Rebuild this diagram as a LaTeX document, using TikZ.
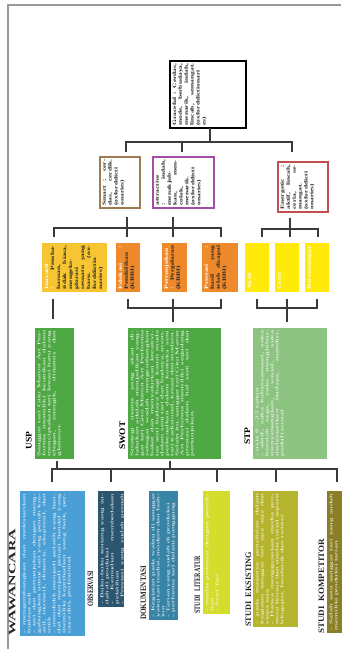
\documentclass[tikz,border=0pt]{standalone}
\usepackage{fontspec}
\setmainfont{Liberation Serif}
\usepackage{graphicx}
\definecolor{framegray}{HTML}{9A9A9A}
\definecolor{linegray}{HTML}{3A3A3A}
\definecolor{txtdark}{HTML}{262626}
\definecolor{cgold}{HTML}{F7C531}
\definecolor{corange}{HTML}{EE8A2B}
\definecolor{cyellow}{HTML}{FFEA0A}
\definecolor{cgreen}{HTML}{4EA844}
\definecolor{clgreen}{HTML}{8DC481}
\definecolor{cblue}{HTML}{4A9FD6}
\definecolor{cdblue}{HTML}{2C5670}
\definecolor{cteal}{HTML}{3884A6}
\definecolor{clime}{HTML}{D4DC2C}
\definecolor{colive}{HTML}{B6B42C}
\definecolor{cdolive}{HTML}{8A7F26}
\definecolor{cbrown}{HTML}{9E7B52}
\definecolor{cpurple}{HTML}{A24DA6}
\definecolor{cred}{HTML}{C0504D}
\newcommand{\diabox}[8]{%
\pgfmathsetmacro{\dbx}{(#2+#4)/2}%
\pgfmathsetmacro{\dby}{(#3+#5)/2}%
\pgfmathsetmacro{\dbw}{(#5-#3-5)/#7}%
\pgfmathsetmacro{\dbh}{#4-#2-5}%
\node[#6, rotate=90, inner sep=2.5pt, outer sep=0pt] (#1) at (\dbx,\dby) {\scalebox{#7}[1]{\parbox[c][\dbh pt][t]{\dbw pt}{#8}}};}
\newcommand{\toptxt}{\fontsize{5}{5.9}\selectfont\color{txtdark}\bfseries\sloppy}
\newcommand{\midtxt}{\fontsize{5}{6}\selectfont\color{txtdark}\bfseries\sloppy}
\newcommand{\grntxt}{\fontsize{4.2}{5}\selectfont\color{white}\sloppy}
\newcommand{\lowtxt}{\fontsize{4.1}{5}\selectfont\color{white}\sloppy}
\tikzset{
  conn/.style={draw=linegray, line width=1.1pt},
  fbox/.style={fill=#1, draw=none},
  obox/.style={draw=#1, line width=1.4pt, fill=white},
  lbl/.style={rotate=90, anchor=base west, inner sep=0pt, font=\bfseries\color{txtdark}},
}
\begin{document}
\begin{tikzpicture}[x=1pt,y=-1pt]
\useasboundingbox (0,0) rectangle (341,649);
\fill[white] (0,0) rectangle (341,649);
\draw[framegray, line width=1.3pt] (341,5) -- (8,5) -- (8,649);

% level 1
\diabox{grace}{170}{61}{246}{128}{obox=black}{1.5}{\toptxt Graceful : Cerdas, mode, berbudaya, menarik, indah, lincah, semangat. (oxforddictionari\allowbreak es)}
% level 2
\diabox{smart}{100}{157}{140}{208}{obox=cbrown}{1.5}{\toptxt Smart : cerdas, cerdik. (oxforddicti\allowbreak onaries)}
\diabox{attr}{153}{157}{214}{208}{obox=cpurple}{1.5}{\toptxt attractive : indah, menakjub\-kan, mencolok, menarik. (oxforddicti\allowbreak onaries)}
\diabox{ener}{278}{162}{328}{212}{obox=cred}{1.5}{\toptxt Energetic : aktif, lincah, ceria, semangat. (oxforddicti\allowbreak onaries)}
% level 3
\diabox{inov}{42}{243}{107}{292}{fbox=cgold}{1.5}{\midtxt {\color{white}Inovatif :} Pembaharuan, tidak biasa, mengeks\-plorasi sesuatu yang baru. (oxforddictio\allowbreak naries)}
\diabox{edu}{116}{243}{140}{292}{fbox=corange}{1.5}{\midtxt {\color{white}Edukasi :} Pendidikan (KBBI)}
\diabox{pert}{162}{243}{187}{292}{fbox=corange}{1.5}{\midtxt {\color{white}Pertunjukan :} Pergelaran (KBBI)}
\diabox{pres}{202}{243}{238}{292}{fbox=corange}{1.5}{\midtxt {\color{white}Prestasi :} hasil yang telah dicapai (KBBI)}
\diabox{aktif}{245}{243}{269}{292}{fbox=cyellow}{1.5}{\midtxt\color{white} Aktif}
\diabox{ceria}{275}{243}{299}{292}{fbox=cyellow}{1.5}{\midtxt\color{white} Ceria}
\diabox{semg}{305}{243}{329}{292}{fbox=cyellow}{1.5}{\midtxt\color{white} Bersemangat}
% level 4
\diabox{usp}{35}{328}{74}{459}{fbox=cgreen}{2.2}{\grntxt Sanggar tari Gito Maron Art Performa memiliki keunikan dalam menciptakan tari kreasi baru yang elegan, energik, dinamis dan glamour.}
\diabox{swot}{128}{328}{221}{459}{fbox=cgreen}{2.2}{\grntxt Strategi utama yang akan dilakukan adalah menjadikan sanggar tari Gito Maron Art Performa sebagai wadah mengembangkan bakat dan menyalurkan kreativitas seni budaya bagi kaum muda dalam seni tari dan budaya, memperkenalkan dalam konteks seni tari tradisional, kreasi dan modern. Selain itu, sanggar tari Gito Maron Art Performa memiliki segudang prestasi dalam hal seni tari dan pertunjukan.}
\diabox{stp}{253}{328}{327}{459}{fbox=clgreen}{2.2}{\grntxt - usia 6 -- 25 tahun\par - aktif, suka kebersamaan, suka berolah raga, suka menghibur, menyenangkan, sosial, suka melestarikan budaya, mandiri, peduli sosial}
\node[lbl, font=\fontsize{8.6}{9}\selectfont\bfseries] (uspl) at (31.5,450) {\scalebox{1.1}[1]{USP}};
\node[lbl, font=\fontsize{8.6}{9}\selectfont\bfseries] (swotl) at (125,450) {\scalebox{1.1}[1]{SWOT}};
\node[lbl, font=\fontsize{8.6}{9}\selectfont\bfseries] (stpl) at (250,445) {\scalebox{1.1}[1]{STP}};
% level 5
\diabox{waw}{20}{491}{85}{636}{fbox=cblue}{2.2}{\lowtxt - mengembangkan dan melestarikan budaya asli\par - tari dan pertunjukan dengan menggabungkan unsur tari yang penuh kreatif, inovatif, dinamis, ekspresif, dan unik\par - mendidik menjadi pelatih yang handal dan menjadi penari handal yang memiliki kepribadian yang baik, percaya diri, profesional.}
\diabox{obs}{98}{491}{124}{607}{fbox=cdblue}{2.2}{\lowtxt - Buku-buku tentang yang sudah di produksi\par - Kemudian membedakan pelatihan\par - Prestasi yang sudah pernah diraih}
\diabox{dok}{149}{491}{178}{620}{fbox=cteal}{2.2}{\lowtxt - Kegiatan pada waktu di sanggar yaitu tari tradisi, modern dan fashion\par - Tarian yang sudah di produksi\par - performa tari dalam panggung}
\diabox{lit}{203}{491}{230}{614}{fbox=clime}{2.2}{\lowtxt - media promosi dengan penelitian\par - Seni Tari}
\diabox{eks}{253}{491}{298}{627}{fbox=colive}{2.2}{\lowtxt - pada masanya penelitian dalam kegiatan sanggar tari apa saja dan siapa saja\par - Hanya menggunakan media promosi brosur dan media sosial seperti blogspot, facebook dan twitter}
\diabox{komp}{327}{491}{347}{633}{fbox=cdolive}{2.2}{\lowtxt - Salah satu sanggar tari yang sudah memiliki produksi tarian}
\node[lbl] (wawl) at (15.5,636) {\resizebox{107pt}{6.5pt}{WAWANCARA}};
\node[lbl] (obsl) at (93,607) {\resizebox{36pt}{5.5pt}{OBSERVASI}};
\node[lbl] (dokl) at (146,620) {\resizebox{54pt}{5.5pt}{DOKUMENTASI}};
\node[lbl] (litl) at (200,614) {\resizebox{58pt}{5.5pt}{STUDI\ \ LITERATUR}};
\node[lbl] (eksl) at (251,627) {\resizebox{75pt}{5.5pt}{STUDI\ \ EKSISTING}};
\node[lbl] (kompl) at (324,634) {\resizebox{95pt}{5.5pt}{STUDI\ \ KOMPETITOR}};

% connectors
\draw[conn] (210,128) -- (210,142);
\draw[conn] (126,152) -- (126,142) -- (292,142) -- (292,152);
\draw[conn] (182,142) -- (182,152);
\draw[conn] (127,217) -- (127,237);
\draw[conn] (173,217) -- (173,237);
\draw[conn] (54,237) -- (54,228) -- (221,228) -- (221,237);
\draw[conn] (290,218) -- (290,237);
\draw[conn] (262,237) -- (262,229) -- (318,229) -- (318,237);
\draw[conn] (53,299) -- (53,319);
\draw[conn] (128,299) -- (128,308) -- (221,308) -- (221,299);
\draw[conn] (173,299) -- (173,322);
\draw[conn] (257,299) -- (257,308) -- (317,308) -- (317,299);
\draw[conn] (287,299) -- (287,322);
\draw[conn] (57,461) -- (57,469);
\draw[conn] (170,461) -- (170,469);
\draw[conn] (52,482) -- (52,469) -- (337,469) -- (337,482);
\foreach \xx in {111,164,217,276} \draw[conn] (\xx,469) -- (\xx,482);
\end{tikzpicture}
\end{document}
